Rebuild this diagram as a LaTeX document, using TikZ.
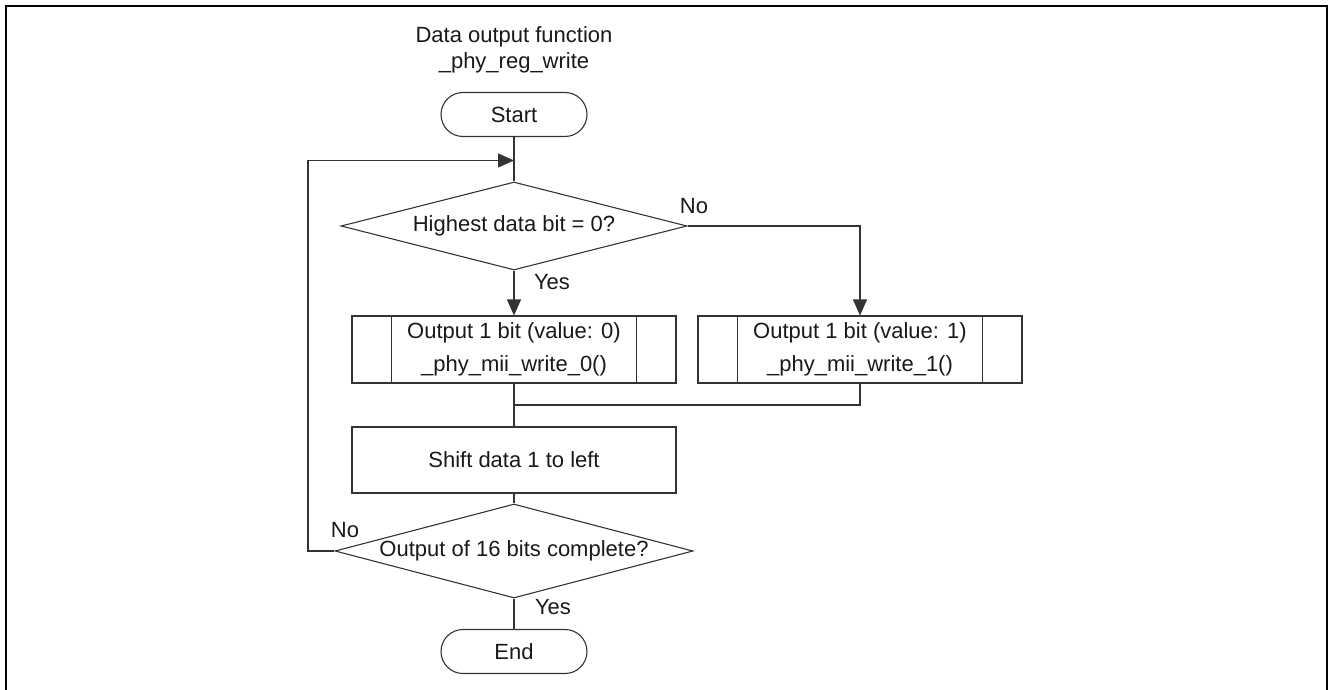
\documentclass[tikz,border=0pt]{standalone}
\usepackage{fontspec}
\setmainfont{Liberation Sans}
\usetikzlibrary{arrows.meta,shapes.geometric,calc}
\tikzset{
  base/.style={draw=black!80, line width=1.1pt, text=black!90, font=\fontsize{22}{33}\selectfont},
  term/.style={base, rounded corners=22pt, minimum width=146pt, minimum height=44pt, inner sep=0pt},
  dec/.style={base, shape=diamond, inner sep=0pt},
  proc/.style={base, minimum width=324pt, minimum height=67pt, inner sep=0pt, align=center},
  conn/.style={draw=black!80, line width=1.1pt},
  arr/.style={conn, -{Triangle[length=16pt,width=14pt]}},
  lbl/.style={text=black!90, font=\fontsize{22}{26}\selectfont, inner sep=0pt}
}
\begin{document}
\begin{tikzpicture}[x=1pt,y=-1pt]
\useasboundingbox (0,0) rectangle (1328,690);
\draw[line width=2pt] (5.5,690) -- (5.5,6) -- (1327,6) -- (1327,690);

\node[lbl, align=center] (title) at (514,50) {Data output function\\\_phy\_reg\_write};
\node[term] (start) at (514,114.5) {Start};
\node[dec, aspect=3.93, minimum width=346pt, minimum height=88pt] (d1) at (514,226) {Highest data bit = 0?};
\node[proc] (b1) at (514,349.5) {\raisebox{-1.5pt}{Output 1 bit (value: 0)}\\\raisebox{-1.5pt}{\_phy\_mii\_write\_0()}};
\node[proc] (b2) at (860,349.5) {\raisebox{-1.5pt}{Output 1 bit (value: 1)}\\\raisebox{-1.5pt}{\_phy\_mii\_write\_1()}};
\node[proc, minimum height=66pt] (sh) at (514,460) {Shift data 1 to left};
\node[dec, aspect=3.81, minimum width=358pt, minimum height=94pt] (d2) at (514,551) {\raisebox{-2pt}{Output of 16 bits complete?}};
\node[term] (end) at (514,651.5) {End};

\foreach \b in {b1,b2}{
  \draw[conn] ([xshift=40pt]\b.north west) -- ([xshift=40pt]\b.south west);
  \draw[conn] ([xshift=-40pt]\b.north east) -- ([xshift=-40pt]\b.south east);
}

\coordinate (join) at (514,160.5);
\coordinate (lc) at (308,160.5);
\coordinate (m) at (514,405);

\draw[conn] (start.south) -- (d1.north);
\draw[arr] (d2.west) -| (lc) -- (join);
\draw[arr] (d1.south) -- (b1.north);
\draw[arr] (d1.east) -| (b2.north);
\draw[conn] (b1.south) -- (sh.north);
\draw[conn] (b2.south) |- (m);
\draw[conn] (sh.south) -- (d2.north);
\draw[conn] (d2.south) -- (end.north);

\node[lbl] (no1) at (694,206) {No};
\node[lbl] (yes1) at (552,282) {Yes};
\node[lbl] (no2) at (345,530) {No};
\node[lbl] (yes2) at (553,607) {Yes};
\end{tikzpicture}
\end{document}
